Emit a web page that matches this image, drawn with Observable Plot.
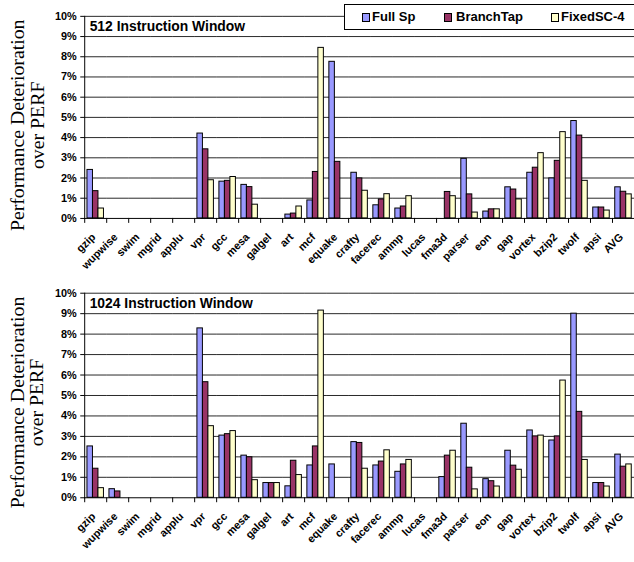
<!DOCTYPE html>
<html>
<head>
<meta charset="utf-8">
<script src="https://cdn.jsdelivr.net/npm/d3@7"></script>
<script src="https://cdn.jsdelivr.net/npm/@observablehq/plot@0.6"></script>
<style>
html, body { margin: 0; padding: 0; background: #fff; overflow: hidden; width: 634px; height: 562px; }
#wrap { position: relative; width: 634px; height: 562px; overflow: hidden; }
.chart { position: absolute; left: 0; }
.chart svg { display: block; overflow: visible; }
.legend { position: absolute; left: 344px; top: 4px; width: 310px; height: 24px; border: 1px solid #000; background: #fff;
  font: bold 13px "Liberation Sans", Arial, sans-serif; color: #000; }
.legend .sw { position: absolute; top: 8px; width: 6px; height: 7px; border: 1px solid #000; }
.legend .lb { position: absolute; top: 4px; line-height: 15px; white-space: nowrap; }
</style>
</head>
<body>
<div id="wrap">
  <div class="chart" id="c1" style="top:0px"></div>
  <div class="chart" id="c2" style="top:262px"></div>
  <div class="legend" id="legend"></div>
</div>
<script>
const categories = ["gzip","wupwise","swim","mgrid","applu","vpr","gcc","mesa","galgel","art","mcf","equake","crafty","facerec","ammp","lucas","fma3d","parser","eon","gap","vortex","bzip2","twolf","apsi","AVG"];
const seriesNames = ["Full Sp", "BranchTap", "FixedSC-4"];
const seriesColors = ["#9999FF", "#993366", "#FFFFCC"];
const yTicks = [0,1,2,3,4,5,6,7,8,9,10];
const yTitle = "Performance Deterioration\nover PERF";
const title512 = "512 Instruction Window";
const title1024 = "1024 Instruction Window";

// 512 instruction window (percent)
const full512   = [2.40,0,0,0,0,4.20,1.82,1.66,0,0.19,0.89,7.75,2.26,0.65,0.49,0,0,2.95,0.34,1.54,2.26,1.98,4.82,0.54,1.54];
const branch512 = [1.35,0,0,0,0,3.42,1.86,1.55,0,0.24,2.30,2.80,1.98,0.94,0.59,0,1.31,1.19,0.45,1.43,2.51,2.85,4.10,0.54,1.32];
const fixed512  = [0.49,0,0,0,0,1.89,2.05,0.68,0,0.59,8.44,0,1.37,1.20,1.10,0,1.10,0.29,0.45,0.94,3.23,4.27,1.86,0.39,1.19];

// 1024 instruction window (percent)
const full1024   = [2.51,0.42,0,0,0,8.28,3.04,2.06,0.72,0.56,1.58,1.63,2.72,1.58,1.27,0,1.01,3.62,0.91,2.30,3.29,2.80,9.00,0.72,2.11];
const branch1024 = [1.42,0.31,0,0,0,5.65,3.11,1.98,0.72,1.81,2.51,0,2.68,1.77,1.63,0,2.06,1.47,0.81,1.57,3.00,3.00,4.20,0.72,1.52];
const fixed1024  = [0.47,0,0,0,0,3.50,3.26,0.86,0.72,1.11,9.15,0,1.42,2.32,1.85,0,2.30,0.41,0.55,1.37,3.04,5.73,1.85,0.55,1.63];

const W = 640, ML = 85;
const bw = (W - ML) / categories.length;
const labelAngle = -45;

function makeChart(full, branch, fixed, title, height, marginTop, marginBottom, yTitleDy) {
  const vals = [full, branch, fixed];
  const rows = [];
  categories.forEach((c, i) => seriesNames.forEach((s, k) => rows.push({cat: c, series: s, value: vals[k][i]})));
  return Plot.plot({
    width: W, height, marginLeft: ML, marginRight: 0, marginTop, marginBottom,
    style: {fontFamily: "'Liberation Sans', Arial, sans-serif", fontSize: "11px", fontWeight: "bold", background: "transparent", color: "#000"},
    fx: {domain: categories, padding: 0, round: false, label: null, axis: null},
    x: {domain: seriesNames, paddingInner: 0, paddingOuter: 0.5, round: false, axis: null},
    y: {domain: [0, 10], label: null},
    color: {domain: seriesNames, range: seriesColors},
    marks: [
      Plot.ruleY(yTicks.filter(t => t > 0), {stroke: "#000", strokeWidth: 1, strokeOpacity: 0.85}),
      Plot.barY(rows, {fx: "cat", x: "series", y: "value", fill: "series", stroke: "#000", strokeWidth: 1}),
      Plot.ruleY([0], {stroke: "#000", strokeWidth: 1}),
      Plot.frame({anchor: "left", facetAnchor: "left", stroke: "#000"}),
      Plot.axisY({ticks: yTicks, tickFormat: d => d + "%", tickSize: 4, tickPadding: 4, label: null, fontSize: 11, fontWeight: "bold"}),
      Plot.axisFx({anchor: "bottom", tickSize: 5, tickFormat: () => "", dx: -bw / 2, label: null}),
      Plot.text(categories, {fx: d => d, text: d => d, frameAnchor: "bottom", rotate: () => labelAngle, textAnchor: "end", lineAnchor: "middle",
        dx: -2, dy: 17, fontSize: 11, fontWeight: "bold"}),
      Plot.text([title], {facetAnchor: "left", frameAnchor: "top-left", textAnchor: "start", lineAnchor: "top", dx: 5, dy: 5, fontSize: 14, fontWeight: "bold"}),
      Plot.text([yTitle], {facetAnchor: "left", frameAnchor: "left", rotate: -90, textAnchor: "middle", lineAnchor: "middle",
        dx: -58, dy: yTitleDy, fontSize: 20, fontWeight: "normal", lineHeight: 1.0, fontFamily: "'Liberation Serif', 'Times New Roman', serif"})
    ]
  });
}

document.getElementById("c1").appendChild(makeChart(full512, branch512, fixed512, title512, 262, 16, 42, 8));
document.getElementById("c2").appendChild(makeChart(full1024, branch1024, fixed1024, title1024, 300, 31, 62.5, 7));

// legend
const leg = document.getElementById("legend");
const swX = [17, 99, 206], lbX = [27, 111, 216];
seriesNames.forEach((s, k) => {
  const sw = document.createElement("div");
  sw.className = "sw"; sw.style.left = swX[k] + "px"; sw.style.background = seriesColors[k];
  const lb = document.createElement("div");
  lb.className = "lb"; lb.style.left = lbX[k] + "px"; lb.textContent = s;
  leg.appendChild(sw); leg.appendChild(lb);
});
</script>
</body>
</html>
